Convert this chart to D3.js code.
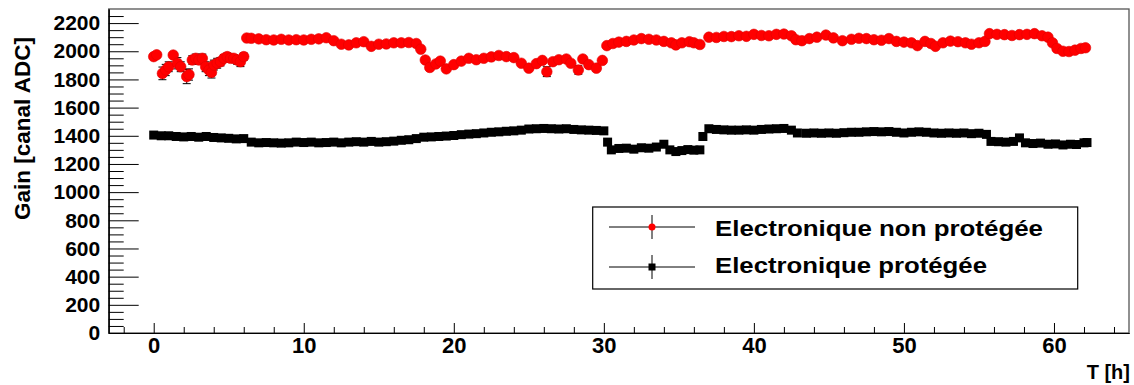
<!DOCTYPE html>
<html><head><meta charset="utf-8">
<script src="https://cdn.jsdelivr.net/npm/d3@7"></script>
<style>
body{margin:0;background:#fff}
svg{display:block}
text{font-family:"Liberation Sans",Arial,Helvetica,sans-serif;font-weight:bold;fill:#000}
</style>
</head><body>
<svg id="c" width="1134" height="385"></svg>
<script>
// ---- Data ----
const xDomain = [-3, 65];
const yDomain = [0, 2300];
const xMajorTicks = [0, 10, 20, 30, 40, 50, 60];
const yMajorTicks = [0, 200, 400, 600, 800, 1000, 1200, 1400, 1600, 1800, 2000, 2200];
const xTitle = "T [h]";
const yTitle = "Gain [canal ADC]";
const legendLabels = ["Electronique non protégée", "Electronique protégée"];

// Electronique non protégée (red circles)
const redTime = [
 0.0,0.2,0.58,0.8,1.0,1.3,1.58,1.8,2.2,2.35,2.57,2.8,3.01,3.24,3.46,3.68,3.85,4.01,4.23,4.45,4.68,4.9,5.12,5.34,5.56,5.78,6.0,
 6.2,6.5,7.0,7.5,8.0,8.5,9.0,9.5,10.0,10.5,11.0,11.5,12.0,12.5,13.0,13.5,14.0,14.5,15.0,15.5,16.0,16.5,17.0,17.5,17.8,
 18.1,18.4,18.8,19.1,19.5,20.0,20.5,21.0,21.5,22.0,22.5,23.0,23.5,24.0,24.5,25.0,25.5,25.9,26.2,26.6,27.0,27.5,27.8,
 28.3,28.6,29.0,29.5,29.9,30.2,30.6,31.0,31.5,32.0,32.5,33.0,33.5,34.0,34.5,34.8,35.2,35.7,36.0,36.4,37.0,37.5,38.0,
 38.5,39.0,39.5,40.0,40.5,41.0,41.5,42.0,42.5,42.8,43.2,43.7,44.2,44.8,45.3,45.9,46.5,47.0,47.5,48.0,48.5,49.0,49.5,
 50.0,50.5,50.9,51.4,51.8,52.1,52.6,53.1,53.6,54.1,54.5,55.0,55.4,55.7,56.2,56.7,57.2,57.7,58.2,58.7,59.2,59.6,59.9,
 60.2,60.6,61.0,61.4,61.8,62.1
];
const redGain = [
 1962,1975,1843,1867,1890,1973,1915,1890,1820,1835,1938,1950,1938,1950,1890,1867,1850,1902,1915,1926,1950,1962,1950,1950,1938,1926,1962,
 2094,2092,2088,2082,2080,2085,2080,2082,2080,2085,2088,2096,2075,2050,2045,2060,2068,2035,2050,2052,2060,2060,2062,2055,2015,
 1938,1885,1910,1930,1875,1905,1930,1950,1940,1950,1960,1970,1962,1955,1915,1880,1912,1935,1855,1926,1940,1945,1915,
 1867,1945,1905,1880,1935,2040,2055,2065,2070,2080,2090,2085,2080,2070,2060,2045,2060,2068,2060,2048,2100,2098,2105,
 2104,2110,2106,2120,2112,2110,2120,2122,2110,2082,2075,2090,2100,2115,2095,2075,2085,2092,2090,2082,2078,2090,2070,
 2065,2060,2040,2070,2055,2035,2060,2072,2068,2060,2050,2060,2070,2125,2120,2118,2112,2118,2120,2125,2110,2100,2060,
 2020,2000,1998,2008,2020,2025
];
const redErr = [
 15,15,45,40,35,15,40,35,50,40,30,30,30,30,35,40,40,35,35,30,25,25,25,25,30,35,25,
 10,10,10,10,10,10,10,10,10,10,10,10,10,10,10,10,10,10,10,10,10,10,10,10,10,
 10,10,10,10,10,10,10,10,10,10,10,10,10,10,15,10,10,10,35,10,10,10,10,
 30,10,10,20,10,10,10,10,10,10,10,10,10,10,10,10,10,10,10,10,10,10,10,
 10,10,10,10,10,10,10,10,10,10,10,10,10,10,10,10,10,10,10,10,10,10,10,
 10,10,10,10,10,10,10,10,10,10,10,10,10,10,10,10,10,10,10,10,10,10,10,
 10,10,10,10,10,10
];

// Electronique protégée (black squares)
const blackTime = [
 0.0,0.5,1.0,1.5,2.0,2.5,3.0,3.5,4.0,4.5,5.0,5.5,6.0,6.5,7.0,7.5,8.0,8.5,9.0,9.5,10.0,10.5,11.0,11.5,12.0,12.5,13.0,
 13.5,14.0,14.5,15.0,15.5,16.0,16.5,17.0,17.5,18.0,18.5,19.0,19.5,20.0,20.5,21.0,21.5,22.0,22.5,23.0,23.5,24.0,24.5,
 25.0,25.5,26.0,26.5,27.0,27.5,28.0,28.5,29.0,29.5,30.0,30.25,30.5,31.0,31.5,32.0,32.5,33.0,33.5,34.0,34.4,34.8,35.2,
 35.6,36.0,36.4,36.6,37.0,37.5,38.0,38.5,39.0,39.5,40.0,40.5,41.0,41.5,42.0,42.5,42.9,43.5,44.0,44.5,45.0,45.5,46.0,
 46.5,47.0,47.5,48.0,48.5,49.0,49.5,50.0,50.5,51.0,51.5,52.0,52.5,53.0,53.5,54.0,54.5,55.0,55.5,55.8,56.3,56.8,57.3,
 57.7,58.1,58.6,59.1,59.6,60.1,60.6,61.1,61.5,62.0,62.2
];
const blackGain = [
 1405,1400,1400,1395,1392,1395,1390,1395,1388,1385,1382,1378,1380,1355,1350,1352,1350,1348,1350,1355,1352,1355,1350,1352,1355,1350,1355,
 1358,1355,1360,1355,1358,1362,1368,1372,1380,1390,1392,1395,1398,1402,1408,1412,1415,1420,1425,1428,1432,1435,1440,
 1448,1450,1452,1450,1448,1450,1445,1442,1440,1438,1435,1355,1300,1310,1312,1305,1315,1312,1320,1340,1300,1288,1295,
 1302,1298,1300,1395,1450,1445,1442,1440,1440,1442,1440,1445,1448,1450,1452,1440,1420,1418,1420,1418,1420,1418,1422,
 1425,1425,1428,1430,1428,1430,1425,1420,1425,1428,1425,1420,1418,1420,1418,1420,1415,1418,1410,1360,1358,1355,1360,
 1385,1350,1345,1348,1340,1342,1335,1340,1338,1350,1352
];

// ---- Drawing ----
const svg = d3.select('#c');
const M = {l: 108.7, t: 9, r: 1129, b: 333};
const x = d3.scaleLinear().domain(xDomain).range([M.l, M.r]);
const y = d3.scaleLinear().domain(yDomain).range([M.b, M.t]);

svg.append('rect').attr('width', 1134).attr('height', 385).attr('fill', '#fff');

// frame
svg.append('rect').attr('x', M.l).attr('y', M.t).attr('width', M.r - M.l).attr('height', M.b - M.t)
  .attr('fill', 'none').attr('stroke', '#555').attr('stroke-width', 1.3);

const FONT = '"Liberation Sans",Arial,Helvetica,sans-serif';
function styleAxis(g, size) {
  g.selectAll('text').attr('font-family', FONT).attr('font-weight', 'bold').attr('font-size', size).attr('fill', '#000');
  g.selectAll('line').attr('stroke', '#000');
  g.select('.domain').attr('stroke', '#000');
}

// x axis
const xMinor = d3.range(-2, 65, 2).filter(v => !xMajorTicks.includes(v));
const gxm = svg.append('g').attr('transform', `translate(0,${M.b})`)
  .call(d3.axisBottom(x).tickValues(xMinor).tickSizeInner(-6).tickSizeOuter(0).tickFormat(''));
styleAxis(gxm, 20);
const gx = svg.append('g').attr('transform', `translate(0,${M.b})`)
  .call(d3.axisBottom(x).tickValues(xMajorTicks).tickSizeInner(-10).tickSizeOuter(0).tickPadding(4).tickFormat(d3.format('d')));
styleAxis(gx, 22);

// y axis
const yMinor = d3.range(50, 2300, 50).filter(v => !yMajorTicks.includes(v));
const gym = svg.append('g').attr('transform', `translate(${M.l},0)`)
  .call(d3.axisLeft(y).tickValues(yMinor).tickSizeInner(-15).tickSizeOuter(0).tickFormat(''));
styleAxis(gym, 20);
const gy = svg.append('g').attr('transform', `translate(${M.l},0)`)
  .call(d3.axisLeft(y).tickValues(yMajorTicks).tickSizeInner(-30).tickSizeOuter(0).tickPadding(8.5).tickFormat(d3.format('d')));
styleAxis(gy, 21);

// titles
svg.append('text').attr('transform', 'translate(30,220) rotate(-90)')
  .attr('font-size', 22).attr('textLength', 183).attr('lengthAdjust', 'spacingAndGlyphs').text(yTitle);
svg.append('text').attr('x', 1130).attr('y', 379).attr('text-anchor', 'end')
  .attr('font-size', 20).text(xTitle);

// black series
const blackData = blackTime.map((t, i) => ({t, v: blackGain[i]}));
svg.append('g').selectAll('rect').data(blackData).join('rect')
  .attr('x', d => x(d.t) - 4.5).attr('y', d => y(d.v) - 4.5)
  .attr('width', 9).attr('height', 9).attr('fill', '#000');

// red series
const redData = redTime.map((t, i) => ({t, v: redGain[i], e: redErr[i] ?? 10}));
const eb = svg.append('g').attr('stroke', '#000').attr('stroke-width', 1);
redData.forEach(d => {
  const cx = x(d.t), y0 = y(d.v - d.e), y1 = y(d.v + d.e);
  eb.append('line').attr('x1', cx).attr('x2', cx).attr('y1', y0).attr('y2', y1);
  eb.append('line').attr('x1', cx - 4).attr('x2', cx + 4).attr('y1', y0).attr('y2', y0);
  eb.append('line').attr('x1', cx - 4).attr('x2', cx + 4).attr('y1', y1).attr('y2', y1);
});
svg.append('g').selectAll('circle').data(redData).join('circle')
  .attr('cx', d => x(d.t)).attr('cy', d => y(d.v)).attr('r', 5.3)
  .attr('fill', '#ff0000').attr('stroke', '#e00000').attr('stroke-width', 0.6);

// legend
const lg = svg.append('g');
lg.append('rect').attr('x', 592.7).attr('y', 207).attr('width', 485).attr('height', 82)
  .attr('fill', '#fff').attr('stroke', '#000').attr('stroke-width', 1.2);
const rows = [
  {y: 227, label: legendLabels[0], type: 'circle', tl: 328, by: 235.5},
  {y: 267, label: legendLabels[1], type: 'square', tl: 272, by: 273}
];
rows.forEach(r => {
  lg.append('line').attr('x1', 609).attr('x2', 695).attr('y1', r.y).attr('y2', r.y).attr('stroke', '#000');
  lg.append('line').attr('x1', 652).attr('x2', 652).attr('y1', r.y - 12).attr('y2', r.y + 12).attr('stroke', '#000');
  if (r.type === 'circle') lg.append('circle').attr('cx', 652).attr('cy', r.y).attr('r', 3.5).attr('fill', '#ff0000');
  else lg.append('rect').attr('x', 648.5).attr('y', r.y - 3.5).attr('width', 7).attr('height', 7).attr('fill', '#000');
  lg.append('text').attr('x', 715).attr('y', r.by).attr('font-size', 22)
    .attr('textLength', r.tl).attr('lengthAdjust', 'spacingAndGlyphs').text(r.label);
});
</script>
</body></html>
